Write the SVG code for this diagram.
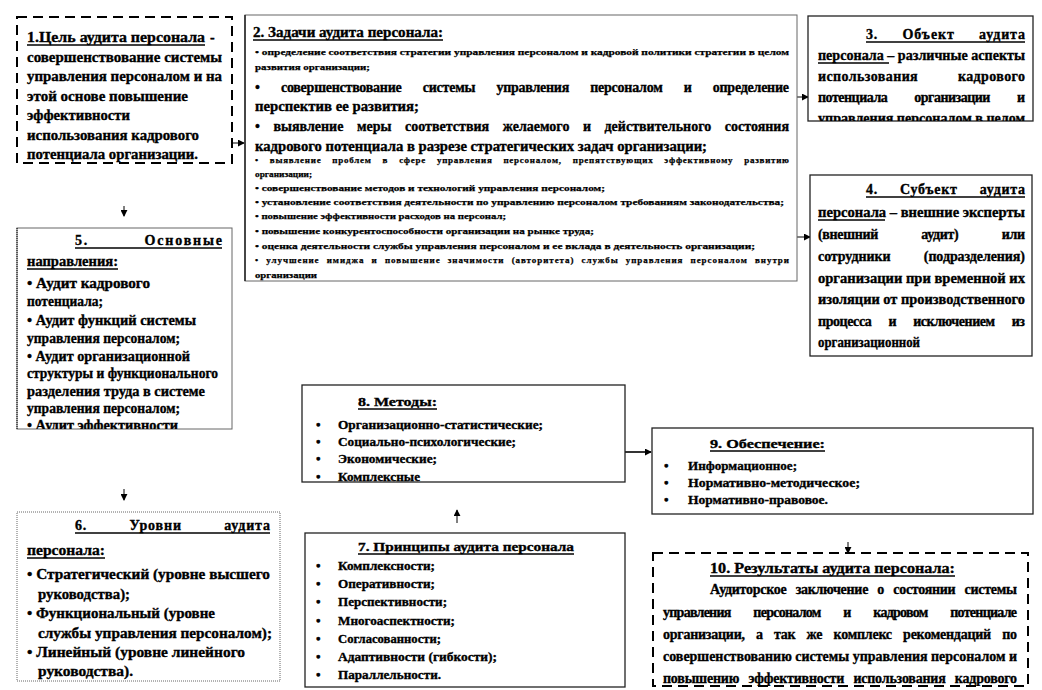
<svg xmlns="http://www.w3.org/2000/svg" width="1042" height="690" viewBox="0 0 1042 690">
<style>
text { font-family: "Liberation Serif", "Times New Roman", "DejaVu Serif", serif; font-weight: 700; fill: #000; stroke: #000; stroke-width: 0.35px; }
.f14 { font-size: 14px; }
.f13 { font-size: 13px; }
.f9 { font-size: 9px; stroke-width: 0.25px; }
.ul { stroke: #000; stroke-width: 1.3; }
.dash { stroke: #000; stroke-width: 2; stroke-dasharray: 10 6; fill: #fff; }
.solid { stroke: #222; stroke-width: 1.3; fill: #fff; }
.gray { stroke: #666; stroke-width: 1; fill: #fff; }
.conn { stroke: #000; stroke-width: 1; fill: none; marker-end: url(#ah); }
</style>
<defs>
<marker id="ah" viewBox="0 0 8 8" refX="7" refY="4" markerWidth="7" markerHeight="7" markerUnits="userSpaceOnUse" orient="auto">
<path d="M0,0 L8,4 L0,8 z" fill="#000"/>
</marker>
<clipPath id="c2"><rect x="245" y="15" width="552" height="266"/></clipPath>
<clipPath id="c3"><rect x="808" y="16" width="225" height="105"/></clipPath>
<clipPath id="c5"><rect x="17" y="228" width="215" height="201"/></clipPath>
<clipPath id="c6"><rect x="17" y="512" width="263" height="169"/></clipPath>
<clipPath id="c8"><rect x="302" y="385" width="323" height="97"/></clipPath>
<clipPath id="c10"><rect x="653" y="553" width="375" height="133"/></clipPath>
</defs>
<rect width="1042" height="690" fill="#fff"/>

<g id="connectors">
<line class="conn" x1="232" y1="143" x2="244" y2="143"/>
<line class="conn" x1="797" y1="97" x2="808" y2="97"/>
<line class="conn" x1="797" y1="237" x2="810" y2="237"/>
<line class="conn" x1="124" y1="206" x2="124" y2="216"/>
<line class="conn" x1="124" y1="489" x2="124" y2="500"/>
<line class="conn" x1="457" y1="523" x2="457" y2="510"/>
<line class="conn" x1="625" y1="452" x2="651" y2="452" style="stroke-width:1.6"/>
<line class="conn" x1="848" y1="542" x2="848" y2="553"/>
</g>

<g id="n1">
<rect class="dash" x="17" y="17" width="215" height="146"/>
<text class="f14" x="27" y="42" textLength="178" lengthAdjust="spacingAndGlyphs">1.Цель аудита персонала</text>
<line class="ul" x1="27" y1="45" x2="205" y2="45"/>
<text class="f14" x="210" y="42">-</text>
<text class="f14" x="27" y="62" textLength="195" lengthAdjust="spacingAndGlyphs">совершенствование системы</text>
<text class="f14" x="27" y="81" textLength="195" lengthAdjust="spacingAndGlyphs">управления персоналом и на</text>
<text class="f14" x="27" y="101" textLength="161" lengthAdjust="spacingAndGlyphs">этой основе повышение</text>
<text class="f14" x="27" y="120" textLength="103" lengthAdjust="spacingAndGlyphs">эффективности</text>
<text class="f14" x="27" y="140" textLength="172" lengthAdjust="spacingAndGlyphs">использования кадрового</text>
<text class="f14" x="27" y="159" textLength="171" lengthAdjust="spacingAndGlyphs">потенциала организации.</text>
</g>

<g id="n2">
<rect class="gray" x="245" y="15" width="552" height="266"/>
<line x1="245" y1="15" x2="245" y2="281" stroke="#222" stroke-width="1.5"/>
<g clip-path="url(#c2)">
<text class="f14" x="253" y="37" textLength="190" lengthAdjust="spacingAndGlyphs">2. Задачи аудита персонала:</text>
<line class="ul" x1="253" y1="40" x2="443" y2="40"/>
<text class="f9" x="255" y="55" textLength="534" lengthAdjust="spacingAndGlyphs">•  определение соответствия стратегии управления персоналом и кадровой политики стратегии в целом</text>
<text class="f9" x="255" y="70" textLength="115" lengthAdjust="spacingAndGlyphs">развития организации;</text>
<text class="f14" x="255" y="92" word-spacing="18" textLength="534" lengthAdjust="spacing">• совершенствование системы управления персоналом и определение</text>
<text class="f14" x="255" y="111" textLength="164" lengthAdjust="spacingAndGlyphs">перспектив ее развития;</text>
<text class="f14" x="255" y="131" word-spacing="10" textLength="534" lengthAdjust="spacing">• выявление меры соответствия желаемого и действительного состояния</text>
<text class="f14" x="255" y="151" textLength="452" lengthAdjust="spacingAndGlyphs">кадрового потенциала в разрезе стратегических задач организации;</text>
<text class="f9" x="255" y="163" word-spacing="8" textLength="534" lengthAdjust="spacing">•  выявление проблем в сфере управления персоналом, препятствующих эффективному развитию</text>
<text class="f9" x="255" y="177" textLength="57" lengthAdjust="spacingAndGlyphs">организации;</text>
<text class="f9" x="255" y="191" textLength="350" lengthAdjust="spacingAndGlyphs">•  совершенствование методов и технологий  управления персоналом;</text>
<text class="f9" x="255" y="205" textLength="529" lengthAdjust="spacingAndGlyphs">•  установление соответствия деятельности по управлению персоналом требованиям законодательства;</text>
<text class="f9" x="255" y="219" textLength="251" lengthAdjust="spacingAndGlyphs">•  повышение эффективности расходов на персонал;</text>
<text class="f9" x="255" y="234" textLength="339" lengthAdjust="spacingAndGlyphs">•  повышение конкурентоспособности организации на рынке труда;</text>
<text class="f9" x="255" y="249" textLength="500" lengthAdjust="spacingAndGlyphs">•  оценка деятельности службы управления персоналом и ее вклада в деятельность организации;</text>
<text class="f9" x="255" y="263" word-spacing="4" textLength="534" lengthAdjust="spacing">•  улучшение имиджа и повышение значимости (авторитета) службы управления персоналом внутри</text>
<text class="f9" x="255" y="278" textLength="62" lengthAdjust="spacingAndGlyphs">организации</text>
</g>
</g>

<g id="n3">
<rect class="solid" x="808" y="16" width="225" height="105"/>
<g clip-path="url(#c3)">
<text class="f14" x="866" y="39" word-spacing="20" textLength="159" lengthAdjust="spacing">3. Объект аудита</text>
<line class="ul" x1="866" y1="42" x2="1025" y2="42"/>
<text class="f14" x="818" y="60" textLength="207" lengthAdjust="spacingAndGlyphs">персонала – различные аспекты</text>
<line class="ul" x1="818" y1="63" x2="889" y2="63"/>
<text class="f14" x="818" y="81" word-spacing="36" textLength="207" lengthAdjust="spacing">использования кадрового</text>
<text class="f14" x="818" y="102" word-spacing="24" textLength="207" lengthAdjust="spacing">потенциала организации и</text>
<text class="f14" x="818" y="123" textLength="207" lengthAdjust="spacingAndGlyphs">управления персоналом в целом</text>
</g>
</g>

<g id="n4">
<rect class="solid" x="810" y="175" width="222" height="181"/>
<text class="f14" x="866" y="194" word-spacing="18" textLength="159" lengthAdjust="spacing">4. Субъект аудита</text>
<line class="ul" x1="866" y1="197" x2="1025" y2="197"/>
<text class="f14" x="818" y="217" textLength="207" lengthAdjust="spacingAndGlyphs">персонала – внешние эксперты</text>
<line class="ul" x1="818" y1="220" x2="885" y2="220"/>
<text class="f14" x="818" y="239" word-spacing="40" textLength="207" lengthAdjust="spacing">(внешний аудит) или</text>
<text class="f14" x="818" y="261" word-spacing="30" textLength="207" lengthAdjust="spacing">сотрудники (подразделения)</text>
<text class="f14" x="818" y="283" textLength="207" lengthAdjust="spacingAndGlyphs">организации при временной их</text>
<text class="f14" x="818" y="304" textLength="207" lengthAdjust="spacingAndGlyphs">изоляции от производственного</text>
<text class="f14" x="818" y="326" word-spacing="14" textLength="207" lengthAdjust="spacing">процесса и исключением из</text>
<text class="f14" x="818" y="347" textLength="102" lengthAdjust="spacingAndGlyphs">организационной</text>
</g>

<g id="n5">
<rect class="gray" x="17" y="228" width="215" height="201"/>
<line x1="17" y1="228" x2="17" y2="429" stroke="#000" stroke-width="1" stroke-dasharray="1 1"/>
<g clip-path="url(#c5)">
<text class="f14" x="75" y="245" word-spacing="50" textLength="147" lengthAdjust="spacing">5. Основные</text>
<line class="ul" x1="75" y1="248" x2="222" y2="248"/>
<text class="f14" x="27" y="266" textLength="91" lengthAdjust="spacingAndGlyphs">направления:</text>
<line class="ul" x1="27" y1="269" x2="118" y2="269"/>
<text class="f14" x="27" y="288" textLength="123" lengthAdjust="spacingAndGlyphs">•  Аудит кадрового</text>
<text class="f14" x="27" y="306" textLength="76" lengthAdjust="spacingAndGlyphs">потенциала;</text>
<text class="f14" x="27" y="325" textLength="169" lengthAdjust="spacingAndGlyphs">•  Аудит функций  системы</text>
<text class="f14" x="27" y="343" textLength="153" lengthAdjust="spacingAndGlyphs">управления  персоналом;</text>
<text class="f14" x="27" y="361" textLength="163" lengthAdjust="spacingAndGlyphs">•  Аудит организационной</text>
<text class="f14" x="27" y="378" textLength="191" lengthAdjust="spacingAndGlyphs">структуры и функционального</text>
<text class="f14" x="27" y="396" textLength="178" lengthAdjust="spacingAndGlyphs">разделения труда в системе</text>
<text class="f14" x="27" y="413" textLength="153" lengthAdjust="spacingAndGlyphs">управления  персоналом;</text>
<text class="f14" x="27" y="430" textLength="151" lengthAdjust="spacingAndGlyphs">•  Аудит эффективности</text>
</g>
</g>

<g id="n6">
<rect class="gray" x="17" y="512" width="263" height="169" stroke-dasharray="1 1"/>
<g clip-path="url(#c6)">
<text class="f14" x="75" y="530" word-spacing="38" textLength="195" lengthAdjust="spacing">6. Уровни аудита</text>
<line class="ul" x1="75" y1="533" x2="270" y2="533"/>
<text class="f14" x="27" y="555" textLength="78" lengthAdjust="spacingAndGlyphs">персонала:</text>
<line class="ul" x1="27" y1="558" x2="105" y2="558"/>
<text class="f14" x="27" y="579" textLength="243" lengthAdjust="spacingAndGlyphs">• Стратегический (уровне высшего</text>
<text class="f14" x="38" y="599" textLength="92" lengthAdjust="spacingAndGlyphs">руководства);</text>
<text class="f14" x="27" y="618" textLength="188" lengthAdjust="spacingAndGlyphs">• Функциональный (уровне</text>
<text class="f14" x="38" y="638" textLength="234" lengthAdjust="spacingAndGlyphs">службы  управления персоналом);</text>
<text class="f14" x="27" y="657" textLength="218" lengthAdjust="spacingAndGlyphs">• Линейный (уровне линейного</text>
<text class="f14" x="38" y="676" textLength="95" lengthAdjust="spacingAndGlyphs">руководства).</text>
</g>
</g>

<g id="n7">
<rect class="solid" x="305" y="533" width="320" height="154"/>
<text class="f13" x="358" y="551" textLength="216" lengthAdjust="spacingAndGlyphs">7. Принципы аудита персонала</text>
<line class="ul" x1="358" y1="554" x2="574" y2="554"/>
<g class="f13">
<text x="316" y="570">•</text><text x="338" y="570" textLength="97" lengthAdjust="spacingAndGlyphs">Комплексности;</text>
<text x="316" y="588">•</text><text x="338" y="588" textLength="97" lengthAdjust="spacingAndGlyphs">Оперативности;</text>
<text x="316" y="606">•</text><text x="338" y="606" textLength="109" lengthAdjust="spacingAndGlyphs">Перспективности;</text>
<text x="316" y="625">•</text><text x="338" y="625" textLength="117" lengthAdjust="spacingAndGlyphs">Многоаспектности;</text>
<text x="316" y="643">•</text><text x="338" y="643" textLength="103" lengthAdjust="spacingAndGlyphs">Согласованности;</text>
<text x="316" y="661">•</text><text x="338" y="661" textLength="159" lengthAdjust="spacingAndGlyphs">Адаптивности (гибкости);</text>
<text x="316" y="679">•</text><text x="338" y="679" textLength="103" lengthAdjust="spacingAndGlyphs">Параллельности.</text>
</g>
</g>

<g id="n8">
<rect class="solid" x="302" y="385" width="323" height="97"/>
<g clip-path="url(#c8)" class="f13">
<text x="358" y="406" textLength="79" lengthAdjust="spacingAndGlyphs">8. Методы:</text>
<line class="ul" x1="358" y1="409" x2="437" y2="409"/>
<text x="316" y="429">•</text><text x="338" y="429" textLength="205" lengthAdjust="spacingAndGlyphs">Организационно-статистические;</text>
<text x="316" y="446">•</text><text x="338" y="446" textLength="178" lengthAdjust="spacingAndGlyphs">Социально-психологические;</text>
<text x="316" y="463">•</text><text x="338" y="463" textLength="99" lengthAdjust="spacingAndGlyphs">Экономические;</text>
<text x="316" y="481">•</text><text x="338" y="481" textLength="82" lengthAdjust="spacingAndGlyphs">Комплексные</text>
</g>
</g>

<g id="n9">
<rect class="solid" x="652" y="428" width="381" height="86"/>
<g class="f13">
<text x="710" y="448" textLength="115" lengthAdjust="spacingAndGlyphs">9. Обеспечение:</text>
<line class="ul" x1="710" y1="451" x2="825" y2="451"/>
<text x="664" y="470">•</text><text x="688" y="470" textLength="109" lengthAdjust="spacingAndGlyphs">Информационное;</text>
<text x="664" y="487">•</text><text x="688" y="487" textLength="172" lengthAdjust="spacingAndGlyphs">Нормативно-методическое;</text>
<text x="664" y="504">•</text><text x="688" y="504" textLength="140" lengthAdjust="spacingAndGlyphs">Нормативно-правовое.</text>
</g>
</g>

<g id="n10">
<rect class="dash" x="653" y="553" width="375" height="133"/>
<g clip-path="url(#c10)">
<text class="f14" x="710" y="573" textLength="245" lengthAdjust="spacingAndGlyphs">10. Результаты аудита персонала:</text>
<line class="ul" x1="710" y1="576" x2="955" y2="576"/>
<text class="f14" x="710" y="594" word-spacing="6" textLength="307" lengthAdjust="spacing">Аудиторское заключение о состоянии системы</text>
<text class="f14" x="663" y="617" word-spacing="20" textLength="354" lengthAdjust="spacing">управления персоналом и кадровом потенциале</text>
<text class="f14" x="663" y="639" word-spacing="8" textLength="354" lengthAdjust="spacing">организации, а так же комплекс рекомендаций по</text>
<text class="f14" x="663" y="661" textLength="354" lengthAdjust="spacingAndGlyphs">совершенствованию системы управления персоналом и</text>
<text class="f14" x="663" y="683" word-spacing="6" textLength="354" lengthAdjust="spacing">повышению эффективности использования кадрового</text>
</g>
</g>
</svg>
